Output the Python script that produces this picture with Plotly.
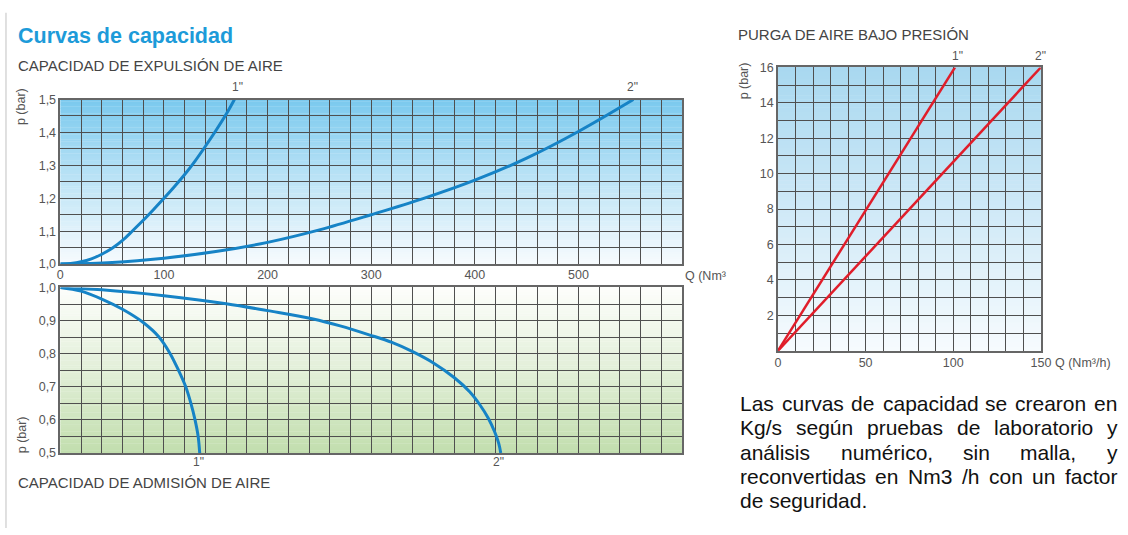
import plotly.graph_objects as go

W, H = 1128, 535

# ---------------- data ----------------
# Capacidad de expulsión de aire (Q in Nm3/h, p in bar)
exp_1_q = [0, 10, 20, 30, 40, 50, 60, 70, 80, 90, 100, 110, 120, 130, 140, 150, 160, 168]
exp_1_p = [1.0, 1.002, 1.007, 1.016, 1.030, 1.048, 1.072, 1.102, 1.133, 1.166, 1.200, 1.235,
           1.272, 1.313, 1.358, 1.405, 1.455, 1.50]
exp_2_q = [0, 50, 100, 150, 200, 250, 300, 350, 400, 450, 500, 553]
exp_2_p = [1.0, 1.005, 1.018, 1.038, 1.066, 1.104, 1.150, 1.199, 1.255, 1.322, 1.403, 1.50]

# Capacidad de admisión de aire
adm_1_q = [0, 20, 40, 60, 80, 95, 106, 114, 121, 126, 130, 133, 134.5]
adm_1_p = [1.0, 0.989, 0.965, 0.934, 0.894, 0.851, 0.80, 0.75, 0.70, 0.65, 0.60, 0.55, 0.50]
adm_2_q = [0, 40, 100, 160, 200, 244, 270, 298, 320, 340, 360, 380, 395, 405, 413, 419, 423, 425]
adm_2_p = [1.0, 0.993, 0.975, 0.951, 0.930, 0.905, 0.884, 0.857, 0.834, 0.806, 0.772, 0.728,
           0.685, 0.645, 0.605, 0.565, 0.53, 0.50]

# Purga de aire bajo presión
purge_1_q = [0, 101]
purge_1_p = [0, 16]
purge_2_q = [0, 150]
purge_2_p = [0, 16]

# tick labels
top_x_ticks = [0, 100, 200, 300, 400, 500]
top_y_ticks = [1.0, 1.1, 1.2, 1.3, 1.4, 1.5]
top_y_text = ["1,0", "1,1", "1,2", "1,3", "1,4", "1,5"]
bot_y_ticks = [0.5, 0.6, 0.7, 0.8, 0.9, 1.0]
bot_y_text = ["0,5", "0,6", "0,7", "0,8", "0,9", "1,0"]
r_x_ticks = [0, 50, 100, 150]
r_y_ticks = [2, 4, 6, 8, 10, 12, 14, 16]

para_lines = [
    "Las curvas de capacidad se crearon en",
    "Kg/s según pruebas de laboratorio y",
    "análisis numérico, sin malla, y",
    "reconvertidas en Nm3 /h con un factor",
    "de seguridad.",
]

# ---------------- helpers ----------------
def px(x):
    return x / W


def py(y):
    return 1 - y / H


FONT = "Liberation Sans, Arial, Helvetica, sans-serif"
GRID = "#4f4f4f"
TICKC = "#555555"
BLUE = "#1683c6"
RED = "#e01d2a"

ARIAL = {
    'a': 556, 'b': 556, 'c': 500, 'd': 556, 'e': 556, 'f': 278, 'g': 556, 'h': 556,
    'i': 222, 'l': 222, 'm': 833, 'n': 556, 'o': 556, 'p': 556, 'r': 333, 's': 500,
    't': 278, 'u': 556, 'v': 500, 'y': 500, 'K': 667, 'L': 556, 'N': 722, '3': 556,
    '/': 278, ',': 278, '.': 278, ' ': 278, 'á': 556, 'é': 556, 'ú': 556,
}


def tw(s, size):
    return sum(ARIAL.get(c, 556) for c in s) * size / 1000.0


def lerp(c0, c1, t):
    return tuple(int(round(a + (b - a) * t)) for a, b in zip(c0, c1))


def grad_shapes(axname, stops, n=70):
    shapes = []
    for i in range(n):
        t = (i + 0.5) / n
        for k in range(len(stops) - 1):
            if stops[k][0] <= t <= stops[k + 1][0]:
                tt = (t - stops[k][0]) / (stops[k + 1][0] - stops[k][0])
                col = lerp(stops[k][1], stops[k + 1][1], tt)
                break
        shapes.append(dict(
            type="rect", xref=f"x{axname} domain", yref=f"y{axname} domain",
            x0=0, x1=1, y0=i / n, y1=(i + 1) / n + 0.002,
            fillcolor="rgb(%d,%d,%d)" % col, line=dict(width=0), layer="below"))
    return shapes


fig = go.Figure()

curve = dict(color=BLUE, width=3, shape="spline", smoothing=1.0)
fig.add_trace(go.Scatter(x=exp_1_q, y=exp_1_p, mode="lines", line=curve,
                         xaxis="x", yaxis="y", hoverinfo="skip", showlegend=False))
fig.add_trace(go.Scatter(x=exp_2_q, y=exp_2_p, mode="lines", line=curve,
                         xaxis="x", yaxis="y", hoverinfo="skip", showlegend=False))
fig.add_trace(go.Scatter(x=adm_1_q, y=adm_1_p, mode="lines", line=curve,
                         xaxis="x2", yaxis="y2", hoverinfo="skip", showlegend=False))
fig.add_trace(go.Scatter(x=adm_2_q, y=adm_2_p, mode="lines", line=curve,
                         xaxis="x2", yaxis="y2", hoverinfo="skip", showlegend=False))
fig.add_trace(go.Scatter(x=purge_1_q, y=purge_1_p, mode="lines", line=dict(color=RED, width=2.5),
                         xaxis="x3", yaxis="y3", hoverinfo="skip", showlegend=False))
fig.add_trace(go.Scatter(x=purge_2_q, y=purge_2_p, mode="lines", line=dict(color=RED, width=2.5),
                         xaxis="x3", yaxis="y3", hoverinfo="skip", showlegend=False))

tickfont = dict(family=FONT, size=12.5, color=TICKC)
common = dict(showgrid=True, gridcolor=GRID, gridwidth=1, zeroline=False,
              showline=True, mirror=True, linecolor="#666666", linewidth=1.5,
              tickfont=tickfont, ticks="", fixedrange=True)

L_DOM = [px(58), px(687)]
fig.update_layout(
    xaxis=dict(domain=L_DOM, range=[0, 600], anchor="y", tickmode="array", tickvals=top_x_ticks,
               ticktext=[str(v) for v in top_x_ticks], ticklabelstandoff=-2,
               minor=dict(tickmode="linear", tick0=0, dtick=20, showgrid=True, gridcolor=GRID, gridwidth=1),
               **common),
    yaxis=dict(domain=[py(264), py(95)], range=[1.0, 1.5], anchor="x", tickmode="array",
               tickvals=top_y_ticks, ticktext=top_y_text,
               minor=dict(tickmode="linear", tick0=1.0, dtick=0.05, showgrid=True, gridcolor=GRID, gridwidth=1),
               **common),
    xaxis2=dict(domain=L_DOM, range=[0, 600], anchor="y2", tickmode="array", tickvals=top_x_ticks,
                showticklabels=False,
                minor=dict(tickmode="linear", tick0=0, dtick=20, showgrid=True, gridcolor=GRID, gridwidth=1),
                **common),
    yaxis2=dict(domain=[py(458), py(288)], range=[0.5, 1.0], anchor="x2", tickmode="array",
                tickvals=bot_y_ticks, ticktext=bot_y_text,
                minor=dict(tickmode="linear", tick0=0.5, dtick=0.05, showgrid=True, gridcolor=GRID, gridwidth=1),
                **common),
    xaxis3=dict(domain=[px(784), px(1050)], range=[0, 150], anchor="y3", tickmode="array",
                tickvals=r_x_ticks, ticktext=[str(v) for v in r_x_ticks], ticklabelstandoff=-1,
                minor=dict(tickmode="linear", tick0=0, dtick=10, showgrid=True, gridcolor=GRID, gridwidth=1),
                **common),
    yaxis3=dict(domain=[py(353), py(62)], range=[0, 16], anchor="x3", tickmode="array",
                tickvals=r_y_ticks, ticktext=[str(v) for v in r_y_ticks],
                minor=dict(tickmode="linear", tick0=0, dtick=1, showgrid=True, gridcolor=GRID, gridwidth=1),
                **common),
)

shapes = []
shapes += grad_shapes("", [(0, (247, 251, 254)), (0.5, (190, 228, 246)), (1, (122, 201, 238))])
shapes += grad_shapes("2", [(0, (194, 222, 174)), (0.5, (226, 239, 216)), (1, (253, 254, 252))])
shapes += grad_shapes("3", [(0, (247, 251, 254)), (0.5, (207, 233, 247)), (1, (168, 216, 240))])
shapes.append(dict(type="line", xref="paper", yref="paper", x0=px(3), x1=px(3), y0=0, y1=py(6),
                   line=dict(color="#d6d6d6", width=1.5)))
fig.update_layout(shapes=shapes)

ann = []


def add_text(text, x, y, size, color="#444444", xanchor="left", yanchor="middle", bold=False, angle=0):
    ann.append(dict(text=("<b>%s</b>" % text) if bold else text, x=px(x), y=py(y), xref="paper", yref="paper",
                    showarrow=False, xanchor=xanchor, yanchor=yanchor, textangle=angle,
                    font=dict(family=FONT, size=size, color=color)))


add_text("Curvas de capacidad", 13, 30, 21.5, color="#1d9bd9", bold=True)
add_text("CAPACIDAD DE EXPULSIÓN DE AIRE", 13, 60, 15, color="#444444")
add_text("CAPACIDAD DE ADMISIÓN DE AIRE", 13, 488, 15, color="#444444")
add_text("PURGA DE AIRE BAJO PRESIÓN", 742, 28, 15, color="#444444")

add_text('1"', 237, 82, 12, color=TICKC, xanchor="center")
add_text('2"', 637, 82, 12, color=TICKC, xanchor="center")
add_text('1"', 198, 467, 12, color=TICKC, xanchor="center")
add_text('2"', 501, 467, 12, color=TICKC, xanchor="center")
add_text('1"', 966, 50, 12, color=TICKC, xanchor="center")
add_text('2"', 1050, 50, 12, color=TICKC, xanchor="center")

add_text("p (bar)", 19, 102, 12.5, color=TICKC, xanchor="center", angle=-90)
add_text("p (bar)", 19, 439, 12.5, color=TICKC, xanchor="center", angle=-90)
add_text("p (bar)", 750, 76, 12.5, color=TICKC, xanchor="center", angle=-90)

add_text("Q (Nm³", 688, 276, 12.5, color=TICKC)
add_text("Q (Nm³/h)", 1062, 366, 12.5, color=TICKC)

# justified paragraph
P_LEFT, P_RIGHT, P_SIZE = 744, 1125, 21
line_y = [407, 432, 457, 482, 507]
for i, line in enumerate(para_lines):
    if i == len(para_lines) - 1:
        add_text(line, P_LEFT, line_y[i], P_SIZE, color="#111111")
        continue
    words = line.split(" ")
    widths = [tw(w, P_SIZE) for w in words]
    gap = (P_RIGHT - P_LEFT - sum(widths)) / (len(words) - 1)
    xcur = P_LEFT
    for w, wd in zip(words, widths):
        add_text(w, xcur, line_y[i], P_SIZE, color="#111111")
        xcur += wd + gap

fig.update_layout(annotations=ann)

fig.update_layout(
    width=W, height=H, margin=dict(l=0, r=0, t=0, b=0),
    paper_bgcolor="white", plot_bgcolor="white",
    font=dict(family=FONT), showlegend=False,
)

post = (
    "document.documentElement.style.margin='0';"
    "document.body.style.margin='0';"
    "document.body.style.overflow='hidden';"
)
fig.write_html("out.html", config={"displayModeBar": False}, post_script=post)
